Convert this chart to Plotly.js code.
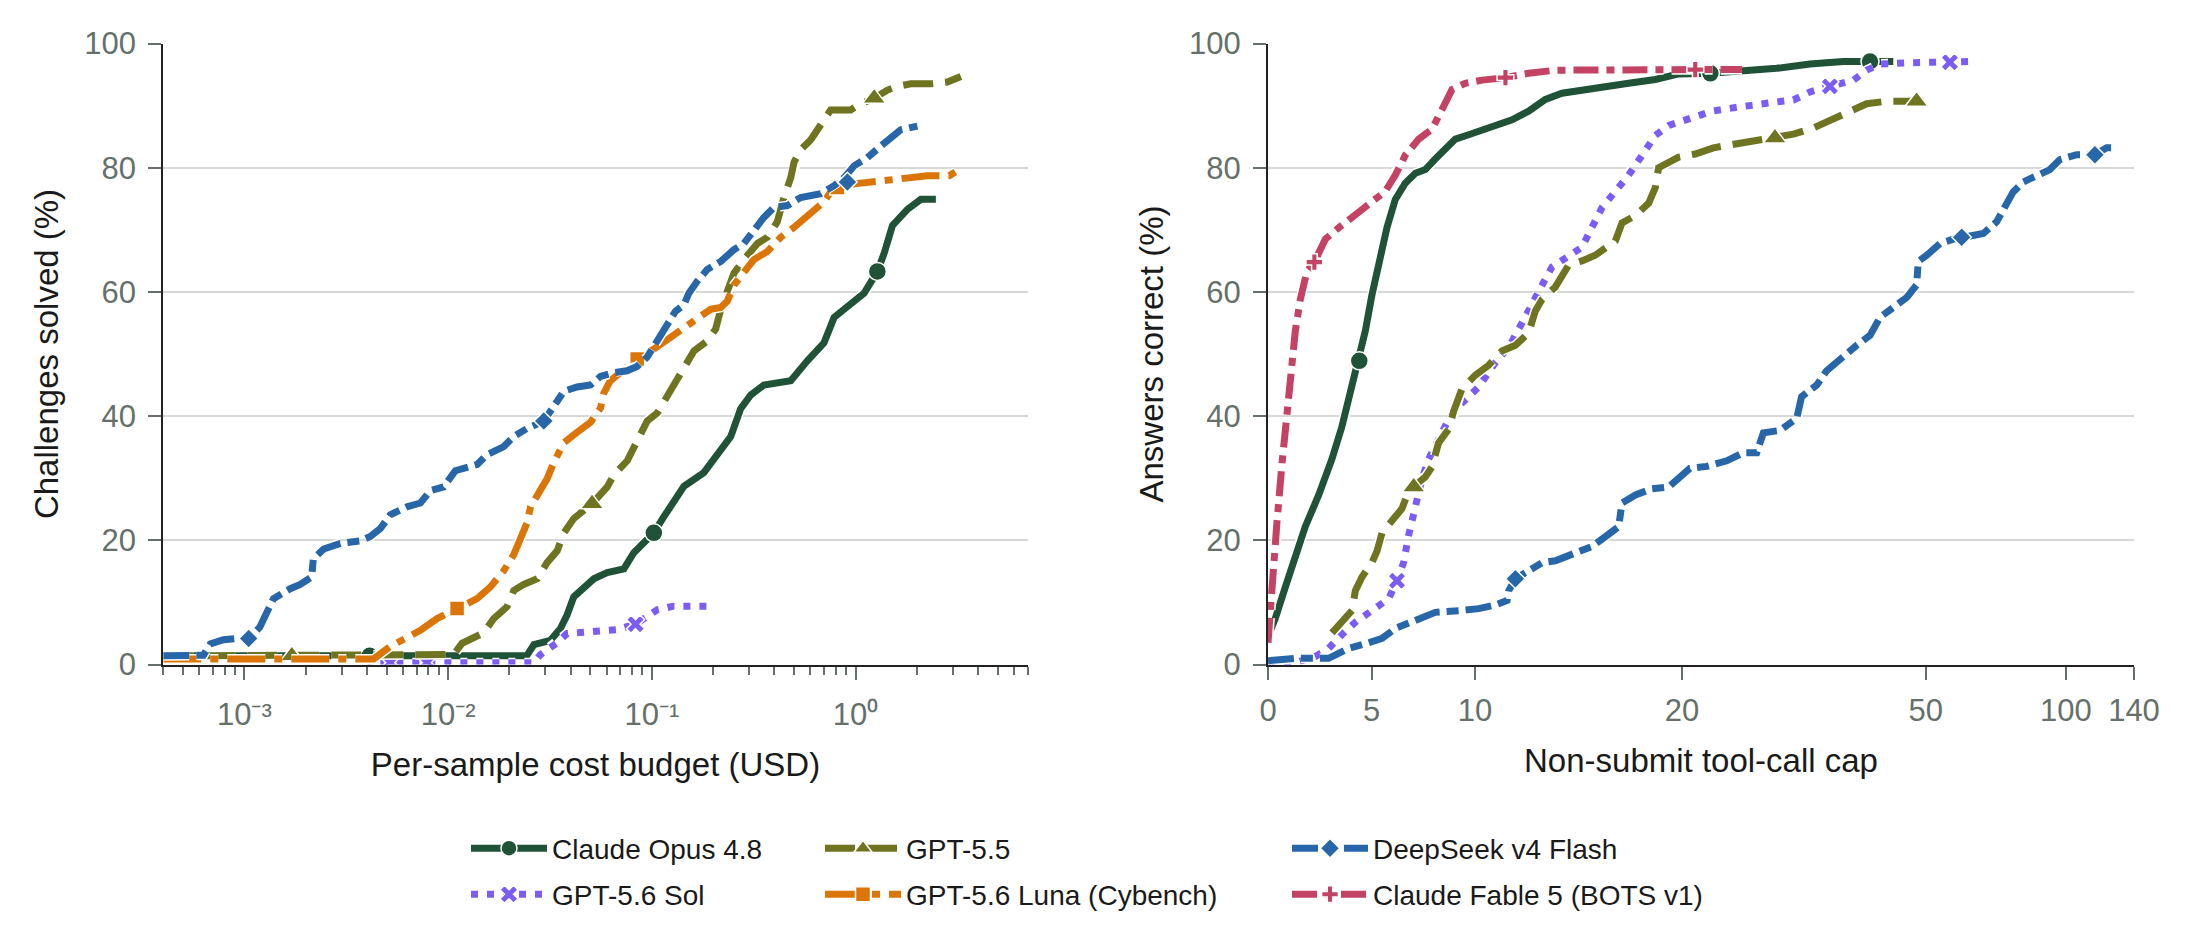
<!DOCTYPE html>
<html>
<head>
<meta charset="utf-8">
<script src="https://cdn.plot.ly/plotly-3.0.1.min.js"></script>
<style>html,body{margin:0;padding:0;background:#fff;}#chart{width:2188px;height:940px;}</style>
</head>
<body>
<div id="chart"></div>
<script>
// ---------------- DATA ----------------
// Left panel: per-sample cost budget (USD) vs challenges solved (%)
const opusCostX = [4e-4, 0.0243, 0.0264, 0.0318, 0.0356, 0.0384, 0.0414, 0.0464, 0.0519, 0.0604, 0.0729, 0.0816, 0.1023, 0.1146, 0.1236, 0.1437, 0.180, 0.218, 0.244, 0.273, 0.306, 0.355, 0.481, 0.580, 0.700, 0.785, 0.984, 1.102, 1.281, 1.381, 1.518, 1.799, 2.093, 2.479];
const opusCostY = [1.4, 1.4, 3.2, 3.9, 5.8, 8.0, 10.9, 12.2, 13.8, 14.8, 15.4, 18.0, 21.2, 23.8, 25.5, 28.7, 30.9, 34.8, 36.7, 41.2, 43.4, 45.0, 45.7, 48.9, 51.8, 55.9, 58.5, 59.8, 63.3, 66.2, 70.7, 73.3, 74.9, 74.9];
const opusCostMarkX = [4.12e-3, 0.1023, 1.28];
const opusCostMarkY = [1.4, 21.2, 63.3];

const solCostX = [4.65e-3, 0.0264, 0.0284, 0.0343, 0.0384, 0.0447, 0.0560, 0.0672, 0.0832, 0.0949, 0.1062, 0.128, 0.1493, 0.187];
const solCostY = [0.3, 0.3, 1.6, 3.5, 5.0, 5.1, 5.4, 5.6, 6.5, 7.8, 8.8, 9.4, 9.4, 9.4];
const solCostMarkX = [5.2e-3, 7.87e-3, 0.0832];
const solCostMarkY = [0.3, 0.3, 6.5];

const gpt55CostX = [4e-4, 9.88e-3, 0.01065, 0.0117, 0.01495, 0.01675, 0.01946, 0.0210, 0.0235, 0.0274, 0.0306, 0.0343, 0.0370, 0.0414, 0.0464, 0.0509, 0.0604, 0.0651, 0.0757, 0.0848, 0.0949, 0.1064, 0.119, 0.1384, 0.161, 0.187, 0.2056, 0.218, 0.2346, 0.253, 0.283, 0.330, 0.369, 0.413, 0.445, 0.481, 0.499, 0.538, 0.603, 0.675, 0.755, 0.845, 0.946, 1.061, 1.234, 1.435, 1.607, 1.868, 2.340, 2.825, 3.29];
const gpt55CostY = [1.4, 1.4, 1.6, 3.4, 5.1, 7.4, 9.3, 11.9, 12.9, 13.8, 16.4, 18.3, 21.2, 23.5, 24.8, 25.9, 28.6, 30.5, 32.8, 36.3, 39.2, 40.5, 43.2, 47.0, 50.5, 52.1, 54.0, 57.2, 59.8, 63.0, 65.2, 67.8, 68.8, 71.3, 75.2, 78.4, 80.9, 82.9, 84.5, 86.7, 89.3, 89.3, 89.3, 90.3, 91.2, 92.5, 93.1, 93.5, 93.5, 93.8, 94.7];
const gpt55CostMarkX = [1.71e-3, 0.0509, 1.234];
const gpt55CostMarkY = [1.4, 25.9, 91.2];

const lunaCostX = [4e-4, 4.31e-3, 5.20e-3, 6.28e-3, 7.31e-3, 8.83e-3, 0.01107, 0.01388, 0.01614, 0.01876, 0.0210, 0.0226, 0.0244, 0.0254, 0.0274, 0.0306, 0.0330, 0.0370, 0.0430, 0.0500, 0.0560, 0.0581, 0.0626, 0.0702, 0.0847, 0.1023, 0.1236, 0.1493, 0.1735, 0.1944, 0.218, 0.2346, 0.253, 0.283, 0.317, 0.369, 0.429, 0.499, 0.538, 0.603, 0.700, 0.755, 0.814, 0.984, 1.281, 1.667, 2.254, 2.882, 3.227];
const lunaCostY = [0.9, 0.9, 2.9, 4.2, 5.5, 7.4, 9.0, 10.6, 12.5, 15.1, 17.7, 20.3, 22.8, 25.4, 27.3, 29.9, 32.5, 35.7, 37.4, 39.0, 41.3, 43.7, 45.7, 47.0, 49.2, 50.8, 52.7, 54.6, 55.9, 57.2, 57.5, 58.5, 61.1, 63.3, 65.2, 66.5, 68.8, 70.4, 71.3, 72.9, 74.5, 76.1, 76.8, 77.4, 77.9, 78.4, 78.7, 78.7, 79.7];
const lunaCostMarkX = [0.01107, 0.0848, 0.814];
const lunaCostMarkY = [9.0, 49.2, 76.8];

const deepseekCostX = [4e-4, 6.3e-4, 6.8e-4, 7.9e-4, 9.2e-4, 1.05e-3, 1.19e-3, 1.29e-3, 1.39e-3, 1.68e-3, 1.88e-3, 2.14e-3, 2.18e-3, 2.45e-3, 2.96e-3, 3.71e-3, 4.15e-3, 4.65e-3, 5.20e-3, 6.28e-3, 7.31e-3, 8.18e-3, 9.51e-3, 0.01086, 0.01194, 0.01388, 0.01554, 0.01876, 0.0210, 0.0244, 0.0295, 0.0330, 0.0370, 0.0430, 0.0500, 0.0560, 0.0651, 0.0756, 0.0847, 0.0949, 0.1062, 0.119, 0.1308, 0.1437, 0.152, 0.167, 0.187, 0.218, 0.253, 0.283, 0.317, 0.355, 0.398, 0.463, 0.538, 0.675, 0.785, 0.879, 0.984, 1.143, 1.330, 1.489, 1.667, 2.013];
const deepseekCostY = [1.4, 1.5, 3.3, 4.0, 4.2, 4.2, 6.0, 8.7, 10.6, 12.2, 12.9, 14.1, 17.0, 18.6, 19.5, 19.9, 20.6, 21.9, 24.1, 25.4, 26.0, 28.0, 28.6, 31.2, 31.5, 32.2, 33.8, 35.1, 36.7, 38.0, 39.2, 41.8, 44.0, 44.7, 45.0, 46.4, 47.0, 47.3, 48.0, 49.5, 52.1, 54.3, 56.9, 57.9, 59.8, 61.7, 63.6, 64.9, 66.8, 67.8, 70.0, 72.0, 73.6, 73.9, 75.2, 75.8, 77.1, 78.4, 80.3, 81.6, 83.5, 84.8, 86.1, 86.7];
const deepseekCostMarkX = [1.05e-3, 0.0295, 0.912];
const deepseekCostMarkY = [4.2, 39.2, 77.7];

// Right panel: non-submit tool-call cap vs answers correct (%)
const opusCallsX = [0, 0.35, 0.84, 1.32, 1.80, 2.45, 3.09, 3.57, 4.06, 4.41, 4.70, 5.02, 5.35, 5.75, 6.15, 6.63, 7.12, 7.60, 8.08, 8.57, 9.05, 9.69, 10.66, 11.79, 12.59, 13.40, 14.20, 15.81, 17.42, 18.71, 19.84, 21.37, 23.06, 24.57, 28.2, 33.29, 37.96, 42.59];
const opusCallsY = [4.5, 7.4, 12.5, 17.7, 22.2, 27.3, 33.1, 38.3, 44.7, 48.9, 53.7, 59.5, 64.6, 70.4, 74.9, 77.5, 79.1, 79.7, 81.4, 83.0, 84.6, 85.3, 86.4, 87.7, 89.1, 91.0, 92.0, 92.9, 93.6, 94.2, 95.1, 95.2, 95.5, 96.0, 96.7, 97.1, 97.1, 97.1];
const opusCallsMarkX = [4.41, 21.37, 37.96];
const opusCallsMarkY = [48.9, 95.2, 97.1];

const solCallsX = [0, 1.32, 2.29, 2.93, 3.57, 4.22, 5.02, 5.83, 6.23, 6.55, 6.80, 7.12, 7.44, 7.76, 8.16, 8.73, 9.37, 10.18, 10.98, 11.63, 12.27, 12.75, 13.24, 13.72, 14.52, 15.17, 15.65, 16.14, 16.78, 17.42, 18.07, 18.71, 19.36, 20.32, 21.45, 22.58, 23.86, 24.83, 25.99, 28.2, 31.13, 34.98, 37.34, 39.89, 46.27, 56.35, 62.76];
const solCallsY = [0, 0.3, 1.3, 2.6, 4.8, 6.8, 8.7, 10.6, 13.5, 16.4, 20.9, 25.4, 29.9, 33.1, 36.0, 39.5, 42.1, 44.7, 48.6, 51.1, 55.0, 58.2, 61.1, 64.0, 65.9, 67.2, 70.4, 73.6, 76.2, 78.8, 82.0, 85.2, 86.8, 87.8, 89.1, 89.7, 90.4, 90.7, 90.9, 92.2, 93.1, 94.1, 95.7, 96.7, 96.9, 97.0, 97.1];
const solCallsMarkX = [6.23, 31.13, 56.35];
const solCallsMarkY = [13.5, 93.1, 97.0];

const gpt55CallsX = [3.09, 3.57, 4.06, 4.22, 4.54, 5.02, 5.27, 5.51, 5.99, 6.47, 6.80, 7.04, 7.60, 7.92, 8.24, 8.73, 8.97, 9.37, 10.02, 10.66, 11.30, 11.95, 12.59, 12.91, 13.24, 13.88, 14.52, 15.17, 15.81, 16.78, 17.10, 17.75, 18.39, 18.71, 18.87, 19.84, 20.64, 21.51, 22.48, 23.45, 24.49, 25.99, 28.70, 30.62, 32.74, 36.12, 37.34, 41.19, 47.79, 49.40];
const gpt55CallsY = [5.1, 7.1, 8.7, 11.9, 14.1, 16.4, 18.3, 21.2, 23.2, 25.1, 28.0, 28.6, 30.2, 31.8, 35.7, 37.9, 40.8, 44.4, 46.6, 48.2, 50.5, 51.4, 53.4, 56.9, 58.8, 60.8, 64.3, 65.0, 65.9, 68.2, 71.1, 72.3, 74.3, 76.8, 80.0, 81.7, 82.2, 83.2, 83.8, 84.3, 84.8, 85.4, 86.4, 87.4, 88.3, 89.9, 90.3, 90.7, 90.7, 90.7];
const gpt55CallsMarkX = [7.04, 24.49, 47.79];
const gpt55CallsMarkY = [28.6, 84.8, 90.7];

const deepseekCallsX = [0, 1.32, 2.93, 3.90, 4.86, 5.51, 6.15, 7.12, 8.08, 9.37, 10.18, 10.98, 11.55, 11.63, 11.95, 12.59, 13.24, 13.88, 14.69, 15.65, 16.30, 16.94, 17.10, 17.75, 18.55, 19.36, 20.38, 21.19, 22.16, 22.96, 23.61, 23.93, 24.73, 26.42, 27.06, 29.18, 30.62, 33.29, 35.54, 37.96, 39.89, 42.59, 45.51, 47.79, 48.19, 50.23, 53.67, 57.30, 59.72, 66.45, 71.00, 74.55, 77.05, 80.98, 86.46, 92.36, 97.06, 105.4, 115.4, 122.3, 128.5];
const deepseekCallsY = [0.6, 1.0, 1.0, 2.6, 3.5, 4.2, 5.8, 7.1, 8.4, 8.7, 9.0, 9.6, 10.3, 11.9, 13.8, 15.1, 16.4, 16.7, 17.7, 19.0, 20.6, 22.2, 26.0, 27.3, 28.3, 28.6, 31.6, 31.9, 32.8, 34.1, 34.1, 37.3, 37.7, 39.6, 43.1, 45.0, 47.3, 49.8, 51.4, 53.0, 55.9, 57.5, 59.1, 61.1, 64.9, 65.9, 67.8, 68.5, 68.8, 69.4, 71.3, 73.9, 76.1, 77.7, 78.7, 79.7, 81.3, 82.1, 82.1, 83.2, 83.2];
const deepseekCallsMarkX = [11.95, 59.72, 115.4];
const deepseekCallsMarkY = [13.8, 68.8, 82.1];

const fableCallsX = [0, 0.11, 0.27, 0.43, 0.68, 0.92, 1.16, 1.32, 1.56, 1.88, 2.24, 2.77, 3.33, 4.22, 5.02, 5.67, 6.15, 6.63, 7.28, 7.92, 8.41, 8.89, 9.53, 10.34, 11.47, 12.59, 13.88, 15.81, 19.03, 20.64, 22.9];
const fableCallsY = [3.5, 9.0, 16.4, 22.8, 32.5, 40.8, 47.3, 53.7, 58.8, 63.3, 64.8, 68.5, 70.1, 72.3, 74.6, 76.2, 78.8, 82.0, 84.6, 86.2, 89.4, 92.6, 93.6, 94.1, 94.5, 95.2, 95.7, 95.8, 95.8, 95.8, 95.8];
const fableCallsMarkX = [2.24, 11.47, 20.64];
const fableCallsMarkY = [64.8, 94.5, 95.8];

// Tick values / labels / titles
const costMajorTicks = [1e-3, 1e-2, 1e-1, 1];
const costMajorLabels = ['10\u207B\u00B3', '10\u207B\u00B2', '10\u207B\u00B9', '10\u2070'];
const costRange = [4e-4, 7];
const callTicks = [0, 5, 10, 20, 50, 100, 140];
const callTickLabels = ['0', '5', '10', '20', '50', '100', '140'];
const callRange = [0, 140];
const pctTicks = [0, 20, 40, 60, 80, 100];
const axisTitles = ['Per-sample cost budget (USD)', 'Challenges solved (%)', 'Non-submit tool-call cap', 'Answers correct (%)'];
const seriesNames = ['Claude Opus 4.8', 'GPT-5.6 Sol', 'GPT-5.5', 'GPT-5.6 Luna (Cybench)', 'DeepSeek v4 Flash', 'Claude Fable 5 (BOTS v1)'];

// ---------------- STYLE ----------------
const W = 2188, H = 940;
const FONT = 'Liberation Sans, Arial, sans-serif';
const TICKC = '#66706b';
const TXT = '#1a1a1a';
const LW = 7;
const styles = {
  opus:     {color: '#1f5237', dash: 'solid',             symbol: 'circle',      size: 18},
  sol:      {color: '#7b5cf6', dash: '7px,9px',           symbol: 'x',           size: 16},
  gpt55:    {color: '#6e7420', dash: '30px,12px',         symbol: 'triangle-up', size: 20},
  luna:     {color: '#db7508', dash: '38px,9px,8px,9px',  symbol: 'square',      size: 15},
  deepseek: {color: '#2766a9', dash: '26px,7px,12px,7px', symbol: 'diamond',     size: 15},
  fable:    {color: '#c44263', dash: '25px,8px,8px,8px',  symbol: 'cross',       size: 14}
};

// symmetric-log style transform used by the right panel's x axis (linear to 25, log beyond)
const LT = 25, LS = 10 / 9;
function symlog(v) { return v <= LT ? v * LS : LT * (LS + Math.log10(v / LT)); }

// plot-area geometry (pixels)
const L1 = 163.3, R1 = 1027.7, L2 = 1268, R2 = 2134, TOP = 43.5, BOT = 664.5;
const px = v => v / W, py = v => 1 - v / H;

const traces = [];
function addSeries(st, xs, ys, mx, my, xa, ya, tf) {
  const tx = xs.map(tf);
  traces.push({x: tx, y: ys, xaxis: xa, yaxis: ya, mode: 'lines', showlegend: false, hoverinfo: 'skip',
    line: {color: '#ffffff', width: LW + 3, dash: st.dash}});
  traces.push({x: tx, y: ys, xaxis: xa, yaxis: ya, mode: 'lines', showlegend: false, hoverinfo: 'skip',
    line: {color: st.color, width: LW, dash: st.dash}});
  traces.push({x: mx.map(tf), y: my, xaxis: xa, yaxis: ya, mode: 'markers', showlegend: false, hoverinfo: 'skip',
    marker: {symbol: st.symbol, size: st.size, color: st.color, line: {color: '#ffffff', width: 1.5}}});
}
const id = v => v;
addSeries(styles.opus, opusCostX, opusCostY, opusCostMarkX, opusCostMarkY, 'x', 'y', id);
addSeries(styles.sol, solCostX, solCostY, solCostMarkX, solCostMarkY, 'x', 'y', id);
addSeries(styles.gpt55, gpt55CostX, gpt55CostY, gpt55CostMarkX, gpt55CostMarkY, 'x', 'y', id);
addSeries(styles.luna, lunaCostX, lunaCostY, lunaCostMarkX, lunaCostMarkY, 'x', 'y', id);
addSeries(styles.deepseek, deepseekCostX, deepseekCostY, deepseekCostMarkX, deepseekCostMarkY, 'x', 'y', id);
addSeries(styles.opus, opusCallsX, opusCallsY, opusCallsMarkX, opusCallsMarkY, 'x2', 'y2', symlog);
addSeries(styles.sol, solCallsX, solCallsY, solCallsMarkX, solCallsMarkY, 'x2', 'y2', symlog);
addSeries(styles.gpt55, gpt55CallsX, gpt55CallsY, gpt55CallsMarkX, gpt55CallsMarkY, 'x2', 'y2', symlog);
addSeries(styles.deepseek, deepseekCallsX, deepseekCallsY, deepseekCallsMarkX, deepseekCallsMarkY, 'x2', 'y2', symlog);
addSeries(styles.fable, fableCallsX, fableCallsY, fableCallsMarkX, fableCallsMarkY, 'x2', 'y2', symlog);

// legend: 3 columns x 2 rows (column-major like the reference)
const legendStyles = [styles.opus, styles.sol, styles.gpt55, styles.luna, styles.deepseek, styles.fable];
const legendCols = [466, 820, 1287];
const legendRows = [848.5, 894.5];
const ITEMW = 76;
const legends = {};
seriesNames.forEach((name, i) => {
  const key = i === 0 ? 'legend' : 'legend' + (i + 1);
  const st = legendStyles[i];
  traces.push({x: [null], y: [null], xaxis: 'x', yaxis: 'y', mode: 'lines+markers', name: name, legend: key, showlegend: true,
    line: {color: st.color, width: LW, dash: st.dash},
    marker: {symbol: st.symbol, size: st.size, color: st.color, line: {color: '#ffffff', width: 1.5}}});
  legends[key] = {x: px(legendCols[Math.floor(i / 2)]), xanchor: 'left', y: py(legendRows[i % 2]), yanchor: 'middle',
    orientation: 'v', bgcolor: 'rgba(0,0,0,0)', borderwidth: 0, itemwidth: ITEMW,
    font: {family: FONT, size: 28, color: TXT}};
});

// minor ticks for the log axis
const minorVals = [];
for (let e = -4; e <= 0; e++) for (let m = 2; m <= 9; m++) {
  const v = m * Math.pow(10, e);
  if (v >= costRange[0] * (1 - 1e-9) && v <= costRange[1] * (1 + 1e-9)) minorVals.push(v);
}

const tickfont = {family: FONT, size: 31, color: TICKC};
const titlefont = {family: FONT, size: 33, color: TXT};
const common = {ticks: 'outside', ticklen: 13, tickwidth: 2, tickcolor: TICKC, showline: true, linecolor: '#222222', linewidth: 2,
  zeroline: false, tickfont: tickfont, layer: 'below traces', fixedrange: true, automargin: false};
const yCommon = Object.assign({}, common, {range: [0, 100], tickmode: 'array', tickvals: pctTicks, ticktext: pctTicks.map(String),
  showgrid: true, gridcolor: '#d6d9d5', gridwidth: 2, domain: [py(BOT), py(TOP)], ticklabelstandoff: 6});

const layout = Object.assign({
  width: W, height: H, margin: {l: 0, r: 0, t: 0, b: 0}, paper_bgcolor: '#ffffff', plot_bgcolor: '#ffffff',
  font: {family: FONT, color: TXT},
  xaxis: Object.assign({}, common, {domain: [px(L1), px(R1)], anchor: 'y', type: 'log',
    range: [Math.log10(costRange[0]), Math.log10(costRange[1])], tickmode: 'array', tickvals: costMajorTicks, ticktext: costMajorLabels,
    showgrid: false, ticklabelstandoff: 8,
    title: {text: axisTitles[0], font: titlefont, standoff: 22},
    minor: {tickmode: 'array', tickvals: minorVals, ticks: 'outside', ticklen: 8, tickwidth: 2, tickcolor: TICKC, showgrid: false}}),
  yaxis: Object.assign({}, yCommon, {anchor: 'x', title: {text: axisTitles[1], font: titlefont, standoff: 16}}),
  xaxis2: Object.assign({}, common, {domain: [px(L2), px(R2)], anchor: 'y2', type: 'linear',
    range: [symlog(callRange[0]), symlog(callRange[1])], tickmode: 'array', tickvals: callTicks.map(symlog), ticktext: callTickLabels,
    showgrid: false, ticklabelstandoff: 4, title: {text: axisTitles[2], font: titlefont, standoff: 22}}),
  yaxis2: Object.assign({}, yCommon, {anchor: 'x2', title: {text: axisTitles[3], font: titlefont, standoff: 16}})
}, legends);

Plotly.newPlot('chart', traces, layout, {staticPlot: true, displayModeBar: false});
</script>
</body>
</html>
